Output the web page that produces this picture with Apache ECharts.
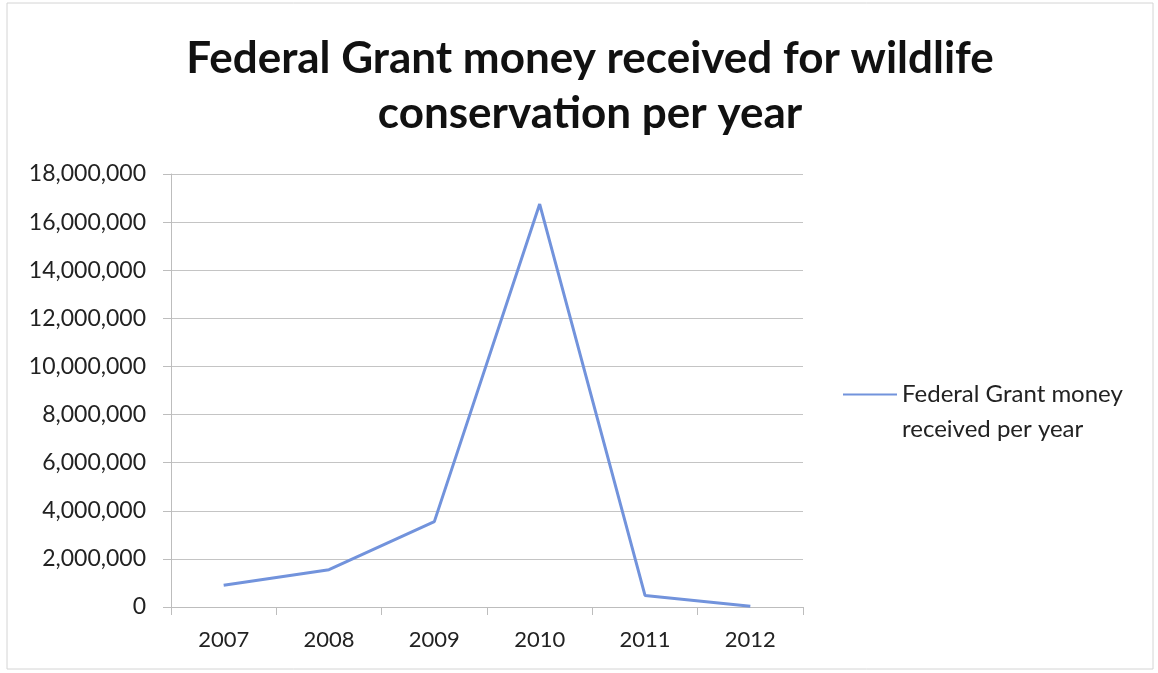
<!DOCTYPE html>
<html>
<head>
<meta charset="utf-8">
<script src="https://cdn.jsdelivr.net/npm/echarts@6/dist/echarts.min.js"></script>
<style>html,body{margin:0;padding:0;background:#fff}#c{width:1158px;height:673px}</style>
</head>
<body>
<div id="c"></div>
<script>
const titleText = 'Federal Grant money received for wildlife\nconservation per year';
const seriesName = 'Federal Grant money\nreceived per year';
const years = ['2007', '2008', '2009', '2010', '2011', '2012'];
const grantValues = [900000, 1550000, 3550000, 16750000, 480000, 30000];
const yMin = 0, yMax = 18000000, yStep = 2000000;

const FONT = 'Lato, "Open Sans", sans-serif';
const chart = echarts.init(document.getElementById('c'), null, {renderer: 'canvas'});
chart.setOption({
  backgroundColor: '#ffffff',
  animation: false,
  title: {
    text: titleText,
    left: 585,
    top: 26,
    textAlign: 'center',
    textStyle: {fontFamily: FONT, fontWeight: 'bold', fontSize: 44, lineHeight: 55, color: '#111'}
  },
  graphic: [{
    type: 'rect', shape: {x: 7, y: 3, width: 1146, height: 666},
    style: {fill: 'none', stroke: '#d4d4d4', lineWidth: 1}, silent: true
  }],
  legend: {
    data: [seriesName],
    left: 843,
    top: 342,
    padding: 0,
    itemWidth: 54,
    itemHeight: 14,
    icon: 'path://M0,6 L54,6 L54,8 L0,8 Z',
    formatter: n => '\n' + n,
    textStyle: {fontFamily: FONT, fontSize: 24, lineHeight: 35, color: '#222'}
  },
  grid: {left: 171, right: 355, top: 174, bottom: 66, containLabel: false},
  xAxis: {
    type: 'category',
    data: years,
    boundaryGap: true,
    axisLine: {show: true, lineStyle: {color: '#bdbdbd', width: 1}},
    axisTick: {show: true, length: 8, alignWithLabel: false, lineStyle: {color: '#bdbdbd'}},
    axisLabel: {fontFamily: FONT, fontSize: 22, color: '#222', margin: 22},
    splitLine: {show: false}
  },
  yAxis: {
    type: 'value',
    min: yMin, max: yMax, interval: yStep,
    axisLine: {show: true, lineStyle: {color: '#bdbdbd', width: 1}},
    axisTick: {show: true, length: 8, lineStyle: {color: '#bdbdbd'}},
    axisLabel: {
      fontFamily: FONT, fontSize: 23, color: '#222', margin: 25,
      formatter: v => v.toLocaleString('en-US')
    },
    splitLine: {show: true, lineStyle: {color: '#c4c4c4', width: 1}}
  },
  series: [{
    name: seriesName,
    type: 'line',
    data: grantValues,
    symbol: 'none',
    showSymbol: false,
    lineStyle: {color: '#7293dc', width: 3},
    itemStyle: {color: '#7293dc'}
  }]
});
</script>
</body>
</html>
